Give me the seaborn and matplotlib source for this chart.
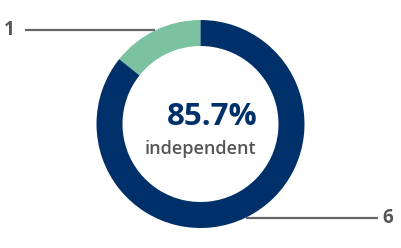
import numpy as np
import matplotlib
matplotlib.use("Agg")
import matplotlib.pyplot as plt
import seaborn as sns

# data
labels = ["dependent", "independent"]
values = [1, 6]
colors = ["#7bc3a0", "#00306a"]
center_pct = "85.7%"
center_label = "independent"

sns.set_theme(style="white")
plt.rcParams['font.family'] = ['Open Sans', 'DejaVu Sans']

W, H = 402, 248
fig = plt.figure(figsize=(W / 100, H / 100), dpi=100)
ax = fig.add_axes([0, 0, 1, 1])

cx, cy, R, ring = 200.5, H - 124, 104, 26
start = 90
ax.pie(values, colors=colors, startangle=start, counterclock=True,
       radius=R, center=(cx, cy), wedgeprops=dict(width=ring, linewidth=0))
ax.set_xlim(0, W)
ax.set_ylim(0, H)
ax.set_aspect("equal")
ax.axis("off")

# leader lines from wedge midpoints
total = sum(values)
cum = 0
for i, v in enumerate(values):
    mid = np.deg2rad(start + 360 * (cum + v / 2) / total)
    cum += v
    px, py = cx + R * np.cos(mid), cy + R * np.sin(mid)
    if np.cos(mid) < 0:
        ax.plot([px, 25], [py, py], color="#666666", lw=1.6, solid_capstyle="butt")
        ax.text(15, py, str(v), ha="right", va="center", fontsize=13.5,
                fontweight="bold", color="#555555")
    else:
        ax.plot([px, 378], [py, py], color="#666666", lw=1.6, solid_capstyle="butt")
        ax.text(382, py, str(v), ha="left", va="center", fontsize=13.5,
                fontweight="bold", color="#555555")

ax.text(212, H - 125, center_pct, ha="center", va="baseline", fontsize=22.5,
        fontweight="bold", color="#00306a")
ax.text(200.5, H - 154, center_label, ha="center", va="baseline", fontsize=13,
        fontweight="semibold", color="#555555")

fig.savefig("out.png", dpi=100)
